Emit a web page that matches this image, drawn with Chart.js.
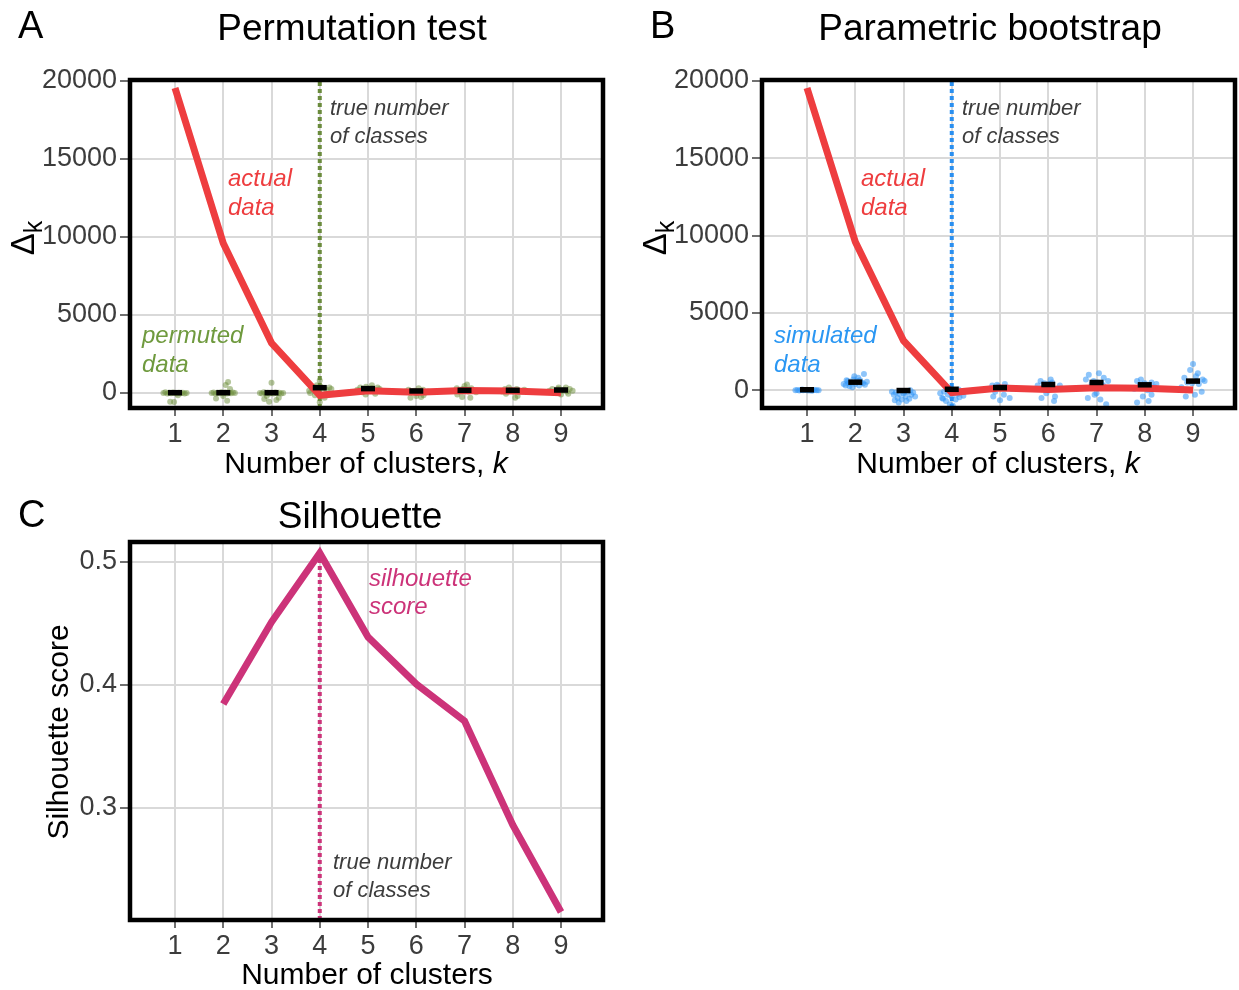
<!DOCTYPE html>
<html>
<head>
<meta charset="utf-8">
<script src="https://cdn.jsdelivr.net/npm/chart.js@4.4.1/dist/chart.umd.min.js"></script>
<style>
  body { margin: 0; background: #fff; }
  canvas { position: absolute; }
</style>
</head>
<body>
<canvas id="permChart" width="620" height="490" style="left:0px;top:0px"></canvas>
<canvas id="bootChart" width="619" height="490" style="left:620px;top:0px"></canvas>
<canvas id="silChart" width="620" height="500" style="left:0px;top:490px"></canvas>
<script>
// number of clusters on the x axis
const kValues = [1, 2, 3, 4, 5, 6, 7, 8, 9];
const trueK = 4;
const deltaTicks = [0, 5000, 10000, 15000, 20000];
const silTicks = [0.3, 0.4, 0.5];

// gap statistic of the real data
const actualDelta = [19550, 9600, 3200, -150, 150, 40, 160, 130, 10];

// permutation test: mean per k and the individual permuted runs [jitter, value]
const permutedMean = [20, 20, 20, 340, 280, 130, 170, 170, 190];
const permutedRuns = [
  [[-0.24, 0], [-0.2, 40], [-0.16, -30], [-0.12, 20], [-0.08, -10], [-0.04, 30], [0, 0], [0.04, -40], [0.08, 20], [0.12, -20], [0.16, 10], [0.2, -30], [0.24, 0], [-0.1, -560], [-0.02, -570], [0.06, -150]],
  [[-0.24, 0], [-0.2, 30], [-0.16, -40], [-0.12, 20], [-0.08, -20], [-0.04, 40], [0, -10], [0.04, 30], [0.08, -30], [0.12, 10], [0.16, -20], [0.2, 30], [0.24, 0], [0.05, 520], [0.1, 700], [-0.15, -360], [0.08, -500], [0, -200], [0.14, 250]],
  [[-0.24, 0], [-0.2, -30], [-0.16, 40], [-0.12, -20], [-0.08, 20], [-0.04, -40], [0, 10], [0.04, -30], [0.08, 30], [0.12, -10], [0.16, 20], [0.2, -30], [0.24, 0], [0, 650], [-0.15, -380], [-0.05, -560], [0.1, -450], [0.15, -300], [-0.1, -200]],
  [[-0.22, 150], [-0.16, 300], [-0.1, 350], [-0.04, 250], [0.02, 400], [0.08, 300], [0.14, 200], [0.2, 350], [0.24, 250], [0, 800], [-0.1, -150], [0.1, -300], [0, -600], [-0.2, 0], [0.16, -100], [-0.06, 500]],
  [[-0.22, 200], [-0.16, 350], [-0.1, 250], [-0.04, 400], [0.02, 150], [0.08, 300], [0.14, 200], [0.2, 350], [0.24, 250], [-0.05, -100], [0.08, 500], [0.15, -50], [-0.12, 50]],
  [[-0.22, 100], [-0.16, 200], [-0.1, 50], [-0.04, 150], [0.02, 0], [0.08, 100], [0.14, 200], [0.2, 50], [0.24, 100], [0, -200], [0.1, -250], [-0.12, -300], [0.15, -150], [0.05, 300]],
  [[-0.22, 150], [-0.16, 300], [-0.1, 100], [-0.04, 250], [0.02, 200], [0.08, 100], [0.14, 300], [0.2, 150], [0.24, 50], [0, 450], [-0.05, -250], [0.12, -300], [0.05, 550], [-0.15, -100]],
  [[-0.22, 100], [-0.16, 250], [-0.1, 150], [-0.04, 200], [0.02, 100], [0.08, 250], [0.14, 150], [0.2, 100], [0.24, 200], [0.1, -200], [0.05, -300], [-0.08, 350], [-0.14, -50]],
  [[-0.24, 150], [-0.18, 250], [-0.12, 100], [-0.06, 250], [0, 150], [0.06, 200], [0.12, 100], [0.18, 250], [0.24, 150], [0, -100], [0.15, -50], [-0.05, 350], [0.1, 350]]
];

// parametric bootstrap: mean per k and the simulated runs [jitter, value]
const simulatedMean = [30, 520, -20, 60, 170, 370, 500, 350, 590];
const simulatedRuns = [
  [[-0.24, 0], [-0.2, 20], [-0.16, -20], [-0.12, 10], [-0.08, -10], [-0.04, 20], [0, 0], [0.04, -20], [0.08, 10], [0.12, -10], [0.16, 20], [0.2, 0], [0.24, -10], [-0.1, 40], [0.1, -30]],
  [[-0.24, 400], [-0.2, 300], [-0.16, 600], [-0.12, 250], [-0.08, 500], [-0.04, 700], [0, 400], [0.04, 600], [0.08, 300], [0.12, 500], [0.16, 450], [0.2, 350], [0.24, 550], [-0.18, 650], [-0.06, 200], [0.06, 800], [0.18, 1050], [0.1, 650], [-0.02, 900], [-0.14, 450]],
  [[-0.24, -100], [-0.2, -300], [-0.16, -150], [-0.12, -500], [-0.08, -250], [-0.04, -600], [0, -200], [0.04, -400], [0.08, -100], [0.12, -550], [0.16, -300], [0.2, -150], [0.24, -400], [-0.1, -800], [0.06, -700], [0.14, 0], [0.02, -100], [-0.18, -650]],
  [[-0.24, -200], [-0.2, -500], [-0.16, -100], [-0.12, -700], [-0.08, -300], [-0.04, -900], [0, -400], [0.04, -150], [0.08, -600], [0.12, -250], [0.16, -450], [0.2, -100], [0.24, -350], [-0.1, 100], [0.02, -1000], [0.14, 50], [-0.18, -550]],
  [[-0.22, 100], [-0.16, 300], [-0.1, -100], [-0.04, 250], [0.02, 150], [0.08, -300], [0.14, 200], [0.2, -500], [0.24, 100], [-0.14, -400], [0.1, 400], [0, -650], [-0.06, 350]],
  [[-0.22, 300], [-0.16, 600], [-0.1, 200], [-0.04, -200], [0.02, 400], [0.08, 500], [0.14, -400], [0.2, 100], [0.24, 300], [-0.14, -500], [0.05, 700], [0.12, -700], [0, 200], [-0.08, 450]],
  [[-0.22, 700], [-0.16, 1000], [-0.1, 400], [-0.04, -300], [0.02, 500], [0.08, -600], [0.14, 300], [0.2, -900], [0.24, 600], [-0.1, 200], [0.15, 800], [-0.18, -500], [0.05, 1100], [0, -200], [-0.06, 600], [0.1, 450]],
  [[-0.22, 100], [-0.16, 600], [-0.1, 300], [-0.04, -400], [0.02, 300], [0.08, -700], [0.14, 500], [0.2, 200], [0.24, 400], [-0.16, -800], [0.06, 0], [0.14, -300], [-0.08, 700], [0, 450]],
  [[-0.24, 200], [-0.18, 800], [-0.12, 500], [-0.06, 1300], [0, 1700], [0.04, -300], [0.08, 600], [0.12, 400], [0.18, -100], [0.24, 600], [-0.15, -400], [0.06, 900], [0.2, 700], [-0.08, 0], [0.1, 1100], [-0.02, 450]]
];

// silhouette score, k = 2..9
const silK = [2, 3, 4, 5, 6, 7, 8, 9];
const silScore = [0.3846, 0.4512, 0.5073, 0.439, 0.4008, 0.3707, 0.2862, 0.2154];

const FONT = '"Liberation Sans", Arial, Helvetica, sans-serif';
const RED = '#ee3d3f';

function drawRuns(ctx, runs, x, y, align, rot) {
  ctx.save();
  ctx.translate(x, y);
  if (rot) ctx.rotate(rot);
  ctx.textBaseline = 'alphabetic';
  ctx.textAlign = 'left';
  let w = 0;
  runs.forEach(r => { ctx.font = r.font; w += ctx.measureText(r.text).width; });
  let cx = align === 'center' ? -w / 2 : 0;
  runs.forEach(r => {
    ctx.font = r.font;
    ctx.fillStyle = r.color;
    ctx.fillText(r.text, cx, r.dy || 0);
    cx += ctx.measureText(r.text).width;
  });
  ctx.restore();
}

// frame + titles + annotations
function decorPlugin(texts) {
  return {
    id: 'decor',
    afterDraw(chart) {
      const ctx = chart.ctx, a = chart.chartArea;
      texts.forEach(t => drawRuns(ctx, t.runs, t.x, t.y, t.align, t.rot));
      ctx.save();
      ctx.strokeStyle = '#000';
      ctx.lineWidth = 4.5;
      ctx.strokeRect(a.left, a.top, a.right - a.left, a.bottom - a.top);
      ctx.restore();
    }
  };
}

function txt(text, size, color, italic) {
  return { text: text, font: (italic ? 'italic ' : '') + size + 'px ' + FONT, color: color };
}

function jittered(runs) {
  const pts = [];
  runs.forEach((list, i) => list.forEach(p => pts.push({ x: kValues[i] + p[0], y: p[1] })));
  return pts;
}

function makeChart(id, cfg) {
  const tickFont = { family: FONT, size: 27 };
  return new Chart(document.getElementById(id), {
    type: 'scatter',
    data: { datasets: cfg.datasets },
    options: {
      responsive: false,
      animation: false,
      events: [],
      layout: { autoPadding: false, padding: { left: 0, top: cfg.top, right: cfg.right, bottom: 0 } },
      plugins: { legend: { display: false }, tooltip: { enabled: false } },
      scales: {
        x: {
          type: 'linear',
          min: 0.067,
          max: 9.87,
          afterBuildTicks: s => { s.ticks = kValues.map(v => ({ value: v })); },
          afterFit: s => { s.height = cfg.xh; },
          border: { display: false },
          grid: { color: '#d9d9d9', lineWidth: 2, tickColor: '#707070', tickWidth: 2, tickLength: 8 },
          ticks: { font: tickFont, color: '#3c3c3c', padding: 2, maxRotation: 0, autoSkip: false }
        },
        y: {
          type: 'linear',
          min: cfg.yMin,
          max: cfg.yMax,
          afterBuildTicks: s => { s.ticks = cfg.yTicks.map(v => ({ value: v })); },
          afterFit: s => { s.width = cfg.yw; },
          border: { display: false },
          grid: { color: '#d9d9d9', lineWidth: 2, tickColor: '#707070', tickWidth: 2, tickLength: 10 },
          ticks: { font: tickFont, color: '#3c3c3c', padding: 3, callback: cfg.fmt }
        }
      }
    },
    plugins: [decorPlugin(cfg.texts)]
  });
}

function deltaDatasets(mean, runs, pointColor, lineColor, yMin, yMax) {
  return [
    {
      data: kValues.map((k, i) => ({ x: k, y: mean[i] })),
      pointStyle: 'line', pointRadius: 7, pointBorderWidth: 5.5,
      pointBorderColor: '#000', showLine: false, order: 0
    },
    {
      data: kValues.map((k, i) => ({ x: k, y: actualDelta[i] })),
      showLine: true, borderColor: RED, borderWidth: 7, pointRadius: 0, order: 1
    },
    {
      data: jittered(runs),
      pointRadius: 3, pointBackgroundColor: pointColor, pointBorderWidth: 0,
      showLine: false, order: 2
    },
    {
      data: [{ x: trueK, y: yMin }, { x: trueK, y: yMax }],
      showLine: true, borderColor: lineColor, borderWidth: 4, borderDash: [4, 3],
      pointRadius: 0, order: 3
    }
  ];
}

function deltaTexts(letter, title, lx, tx, ax, annX, noteColor, note, yTitleX, vx) {
  const gray = '#3d3d3d';
  return [
    { runs: [txt(letter, 38, '#000')], x: lx, y: 38 },
    { runs: [txt(title, 37, '#000')], x: tx, y: 40, align: 'center' },
    { runs: [txt('Number of clusters, ', 30, '#000'), txt('k', 30, '#000', true)], x: ax, y: 473, align: 'center' },
    { runs: [txt('\u0394', 33, '#000'), Object.assign(txt('k', 25, '#000'), { dy: 8 })], x: yTitleX, y: 238, align: 'center', rot: -Math.PI / 2 },
    { runs: [txt('true number', 22, gray, true)], x: vx, y: 115 },
    { runs: [txt('of classes', 22, gray, true)], x: vx, y: 143 },
    { runs: [txt('actual', 24, RED, true)], x: annX, y: 186 },
    { runs: [txt('data', 24, RED, true)], x: annX, y: 215 },
    { runs: [txt(note, 24, noteColor, true)], x: lx + 124, y: 343 },
    { runs: [txt('data', 24, noteColor, true)], x: lx + 124, y: 372 }
  ];
}

// A: permutation test
makeChart('permChart', {
  top: 80, right: 17, xh: 82, yw: 130,
  yMin: -962, yMax: 20064, yTicks: deltaTicks, fmt: v => String(v),
  datasets: deltaDatasets(permutedMean, permutedRuns, 'rgba(107,142,58,0.5)', '#6a8b3c', -962, 20064),
  texts: deltaTexts('A', 'Permutation test', 18, 352, 366, 228, '#6f9a3e', 'permuted', 34, 330)
});

// B: parametric bootstrap
makeChart('bootChart', {
  top: 80, right: 4, xh: 82, yw: 142,
  yMin: -1150, yMax: 20065, yTicks: deltaTicks, fmt: v => String(v),
  datasets: deltaDatasets(simulatedMean, simulatedRuns, 'rgba(50,150,245,0.55)', '#2a8ff0', -1150, 20065),
  texts: deltaTexts('B', 'Parametric bootstrap', 30, 370, 378, 241, '#2b97f3', 'simulated', 46, 342)
});

// C: silhouette
const silMin = 0.2089, silMax = 0.5163;
const MAG = '#cc3379';
makeChart('silChart', {
  top: 52, right: 17, xh: 70, yw: 130,
  yMin: silMin, yMax: silMax, yTicks: silTicks, fmt: v => v.toFixed(1),
  datasets: [
    {
      data: silK.map((k, i) => ({ x: k, y: silScore[i] })),
      showLine: true, borderColor: MAG, borderWidth: 7, pointRadius: 0, order: 0
    },
    {
      data: [{ x: trueK, y: silMin }, { x: trueK, y: silScore[silK.indexOf(trueK)] }],
      showLine: true, borderColor: MAG, borderWidth: 4, borderDash: [4, 3], pointRadius: 0, order: 1
    }
  ],
  texts: [
    { runs: [txt('C', 38, '#000')], x: 18, y: 37 },
    { runs: [txt('Silhouette', 37, '#000')], x: 360, y: 38, align: 'center' },
    { runs: [txt('Number of clusters', 30, '#000')], x: 367, y: 494, align: 'center' },
    { runs: [txt('Silhouette score', 30, '#000')], x: 68, y: 242, align: 'center', rot: -Math.PI / 2 },
    { runs: [txt('silhouette', 24, MAG, true)], x: 369, y: 96 },
    { runs: [txt('score', 24, MAG, true)], x: 369, y: 124 },
    { runs: [txt('true number', 22, '#3d3d3d', true)], x: 333, y: 379 },
    { runs: [txt('of classes', 22, '#3d3d3d', true)], x: 333, y: 407 }
  ]
});
</script>
</body>
</html>
